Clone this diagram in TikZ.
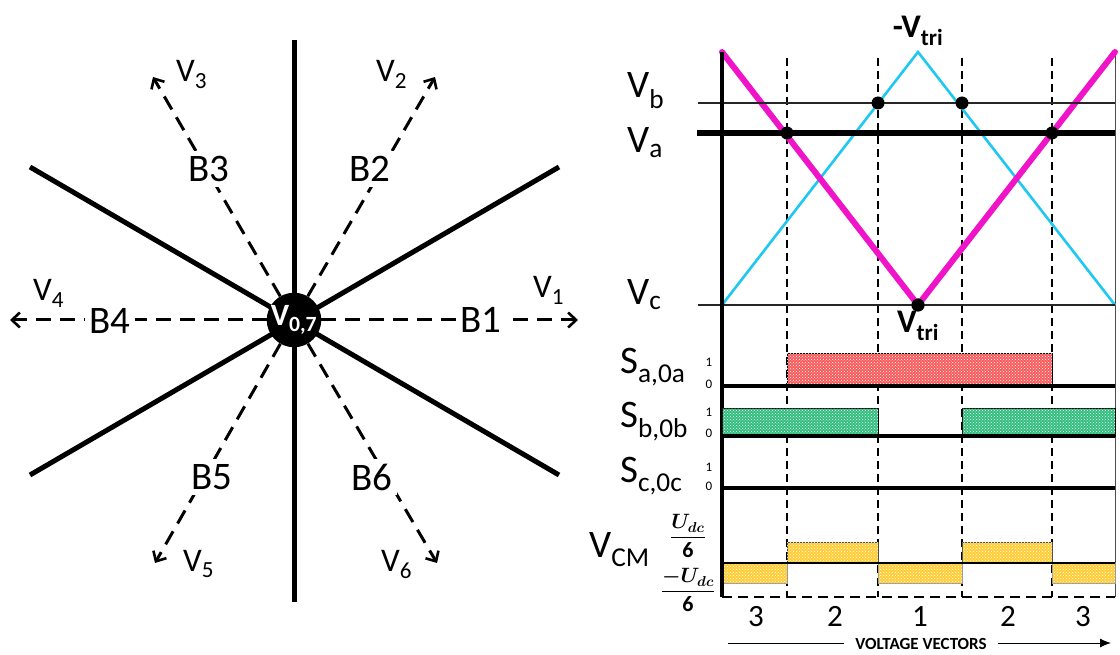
\documentclass[tikz,border=0pt]{standalone}
\usepackage{fontspec}
\setmainfont{Carlito}
\usepackage{amsmath}
\usepackage{amssymb}
\usepackage{bm}
\usetikzlibrary{arrows.meta,patterns}
\definecolor{magtri}{HTML}{F014C8}
\definecolor{cyantri}{HTML}{1EC8F0}
\definecolor{sred}{HTML}{F65A5A}
\definecolor{sgreen}{HTML}{30BE7E}
\definecolor{syellow}{HTML}{FFCC33}

\begin{document}
\begin{tikzpicture}[x=1pt,y=-1pt,
    vec/.style={line width=3pt, dash pattern=on 15pt off 9pt, -{Straight Barb[length=8pt,width=15pt,line width=2.6pt]}},
    blab/.style={fill=white, inner sep=5pt, font=\fontsize{39}{39}\selectfont},
    vlab/.style={anchor=base west, inner sep=0pt, font=\fontsize{33}{33}\selectfont},
    sig/.style={anchor=base west, inner sep=0pt, font=\fontsize{39}{39}\selectfont},
    lvl/.style={inner sep=0pt, font=\fontsize{13}{13}\selectfont},
    dot/.style={circle, fill=black, inner sep=0pt, minimum size=13pt},
    cutline/.style={line width=1.2pt, dash pattern=on 8pt off 5pt},
    hatch/.style={pattern=crosshatch dots, pattern color=white}]
    \useasboundingbox (0,0) rectangle (1120,655);
    % switching sectors
    \coordinate (O) at (294,320);
    \coordinate (N) at (294,40); \coordinate (S) at (294,602);
    \coordinate (UL) at (30,167); \coordinate (UR) at (559,167); \coordinate (LL) at (30,475); \coordinate (LR) at (559,475);
    \draw[line width=5pt] (N) -- (S); \draw[line width=5pt] (UL) -- (LR); \draw[line width=5pt] (UR) -- (LL);
    \node[circle, fill=black, minimum size=52pt, inner sep=0pt, text=white, font=\fontsize{31}{31}\selectfont\bfseries] (hub) at (O) {V\textsubscript{0,7}};
    \coordinate (V1) at (578,320); \coordinate (V2) at (435,77); \coordinate (V3) at (153,77);
    \coordinate (V4) at (10,320); \coordinate (V5) at (155,563); \coordinate (V6) at (437,563);
    \foreach \v in {1,...,6} {\draw[vec] (hub) -- (V\v);}
    \foreach \b/\x/\y in {1/481/320, 2/370/169, 3/209/169, 4/110/321, 5/212/477, 6/372/477}
        {\node[blab] (B\b) at (\x,\y) {B\b};}
    \foreach \v/\x/\y in {1/533/298, 2/376/82, 3/176/82, 4/33/301, 5/183/571, 6/381/571}
        {\node[vlab] (lab\v) at (\x,\y) {V\textsubscript{\v}};}

    % carrier and references
    \coordinate (mA) at (722,52); \coordinate (mB) at (1115,52); \coordinate (cT) at (918,52);
    \coordinate (cA) at (722,305); \coordinate (cB) at (1115,305);
    \draw[black!70, line width=1pt] (1115,52) -- (1115,597);
    \foreach \x in {787,878,962,1052} {\draw[cutline] (\x,58) -- (\x,597);}
    \draw[cyantri, line width=2.6pt] (cA) -- (cT) -- (cB);
    \node[dot] (tri) at (918,305) {};
    \draw[magtri, line width=6pt, line cap=round] (mA) -- (tri.center) -- (mB);
    \draw[black!85, line width=1.5pt] (698,103) -- (1115,103);
    \draw[line width=5.5pt] (697,133) -- (1115,133);
    \draw[black!85, line width=1.5pt] (698,305) -- (1115,305);
    \draw[line width=3.5pt] (722,52) -- (722,597);
    \node[dot] (d1) at (787,133) {}; \node[dot] (d2) at (878,103) {};
    \node[dot] (d3) at (962,103) {}; \node[dot] (d4) at (1052,133) {};
    \node[dot] at (tri) {};
    \node[sig] (Vb) at (627,98) {V\textsubscript{b}};
    \node[sig] (Va) at (627,153) {V\textsubscript{a}};
    \node[sig] (Vc) at (627,305) {V\textsubscript{c}};
    \node[anchor=base, inner sep=0pt, font=\fontsize{33}{33}\selectfont\bfseries] (ntri) at (918,38) {-V\textsubscript{tri}};
    \node[anchor=base, inner sep=0pt, font=\fontsize{33}{33}\selectfont\bfseries] (ptri) at (918,333) {V\textsubscript{tri}};

    % switching states
    \foreach \xa/\xb in {787/1052} {\draw[fill=sred, line width=.8pt, postaction={hatch}] (\xa,353) rectangle (\xb,385);}
    \foreach \xa/\xb in {722/878, 962/1115} {\draw[fill=sgreen, line width=.8pt, postaction={hatch}] (\xa,408) rectangle (\xb,436);}
    \foreach \xa/\xb in {787/878, 962/1052} {\draw[fill=syellow, draw=black!70, line width=.6pt, postaction={hatch}] (\xa,542) rectangle (\xb,563);}
    \foreach \xa/\xb in {722/787, 878/962, 1052/1115} {\draw[fill=syellow, draw=black!40, line width=.6pt, postaction={hatch}] (\xa,563) rectangle (\xb,583);}
    \foreach \y in {386,436,488} {\draw[line width=4pt] (722,\y) -- (1115,\y);}
    \draw[line width=2pt] (722,563) -- (1115,563);
    \draw[line width=2pt, dash pattern=on 10pt off 6pt] (722,597) -- (1115,597);
    \draw[line width=3.5pt] (722,530) -- (722,597);
    \node[sig] (Sa) at (620,373) {S\textsubscript{a,0a}};
    \node[sig] (Sb) at (620,427) {S\textsubscript{b,0b}};
    \node[sig] (Sc) at (620,482) {S\textsubscript{c,0c}};
    \node[sig] (Vcm) at (589,557) {V\textsubscript{CM}};
    \foreach \n/\y/\t in {a1/362/1, a0/384/0, b1/412/1, b0/433/0, c1/467/1, c0/486/0}
        {\node[lvl] (l\n) at (709,\y) {\t};}
    \node[inner sep=0pt, font=\fontsize{22}{22}\selectfont] (up) at (688,536) {$\dfrac{\bm{U}_{\bm{dc}}}{\mathbf{6}}$};
    \node[inner sep=0pt, font=\fontsize{22}{22}\selectfont] (dn) at (688,590) {$\dfrac{\bm{-U}_{\bm{dc}}}{\mathbf{6}}$};
    \foreach \x/\t in {756/3, 835/2, 920/1, 1008/2, 1083/3}
        {\node[anchor=base, inner sep=0pt, font=\fontsize{31}{31}\selectfont] at (\x,626) {\t};}
    \node[inner sep=11pt, font=\fontsize{17}{17}\selectfont\bfseries] (vv) at (921,644) {VOLTAGE VECTORS};
    \coordinate (ax1) at (728,643); \coordinate (ax2) at (1111,643);
    \draw[line width=1pt] (ax1) -- (vv.west |- ax1);
    \draw[line width=1pt, -{Latex[length=11pt,width=9pt]}] (vv.east |- ax2) -- (ax2);
\end{tikzpicture}
\end{document}
